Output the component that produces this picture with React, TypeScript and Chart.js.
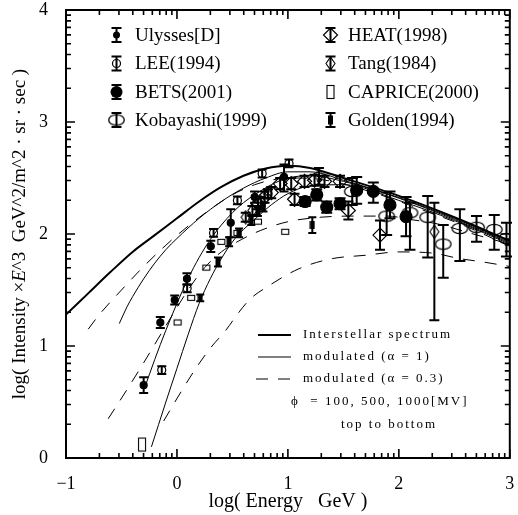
import React, { useEffect, useRef } from "react";
import { Chart, registerables } from "chart.js";
Chart.register(...registerables);

// ---------- axes ----------
const X_MIN = -1, X_MAX = 3, Y_MIN = 0, Y_MAX = 4;
const X_TICKS = [-1, 0, 1, 2, 3];
const Y_TICKS = [0, 1, 2, 3, 4];

// ---------- curves ----------
const IS_X = [-1, -0.8, -0.6, -0.4, -0.2, 0, 0.2, 0.4, 0.6, 0.8, 1.0, 1.2, 1.5, 2.0, 2.5, 3.0];
const IS_Y = [1.28, 1.47, 1.66, 1.84, 1.99, 2.14, 2.29, 2.42, 2.52, 2.585, 2.61, 2.59, 2.50, 2.34, 2.15, 1.94];

const M1_100_X = [-0.52, -0.45, -0.4, -0.3, -0.2, -0.1, 0, 0.2, 0.4, 0.6, 0.8, 1.0, 1.2, 1.5, 2.0, 2.5, 3.0];
const M1_100_Y = [1.20, 1.35, 1.44, 1.60, 1.74, 1.86, 1.96, 2.14, 2.29, 2.41, 2.50, 2.555, 2.555, 2.48, 2.325, 2.14, 1.93];
const M1_500_X = [-0.29, -0.2, -0.1, 0, 0.1, 0.2, 0.3, 0.4, 0.5, 0.6, 0.7, 0.85, 1.0, 1.2, 1.5, 2.0, 2.5, 3.0];
const M1_500_Y = [0.63, 0.88, 1.14, 1.38, 1.60, 1.79, 1.95, 2.08, 2.19, 2.28, 2.35, 2.44, 2.50, 2.52, 2.47, 2.32, 2.13, 1.92];
const M1_1000_X = [-0.23, -0.1, 0, 0.1, 0.2, 0.3, 0.4, 0.5, 0.6, 0.7, 0.85, 1.0, 1.2, 1.5, 2.0, 2.5, 3.0];
const M1_1000_Y = [0.10, 0.50, 0.80, 1.10, 1.38, 1.60, 1.78, 1.93, 2.04, 2.13, 2.26, 2.36, 2.43, 2.44, 2.30, 2.12, 1.91];

const M3_100_X = [-0.8, -0.7, -0.5, -0.3, -0.1, 0.1, 0.3, 0.5, 0.7, 0.9, 1.1, 1.4, 1.8, 2.2, 2.6, 3.0];
const M3_100_Y = [1.15, 1.28, 1.50, 1.71, 1.90, 2.07, 2.22, 2.35, 2.44, 2.49, 2.50, 2.47, 2.36, 2.22, 2.07, 1.89];
const M3_500_X = [-0.62, -0.47, -0.3, -0.1, 0.1, 0.25, 0.4, 0.58, 0.75, 1.0, 1.3, 1.6, 1.9, 2.1, 2.35, 2.6, 2.85, 3.0];
const M3_500_Y = [0.35, 0.58, 0.85, 1.18, 1.50, 1.70, 1.84, 1.95, 2.03, 2.11, 2.15, 2.16, 2.16, 2.13, 2.09, 2.02, 1.95, 1.91];
const M3_1000_X = [-0.12, 0.03, 0.17, 0.30, 0.44, 0.55, 0.66, 0.8, 1.1, 1.4, 1.7, 2.0, 2.3, 2.55, 2.76, 3.0];
const M3_1000_Y = [0.33, 0.58, 0.80, 0.98, 1.14, 1.29, 1.42, 1.52, 1.69, 1.78, 1.81, 1.84, 1.83, 1.78, 1.75, 1.71];

// ---------- measurements ----------
const UL_X = [-0.30, -0.15, -0.02, 0.09, 0.305, 0.485, 0.70, 0.965];
const UL_Y = [0.65, 1.21, 1.41, 1.60, 1.89, 2.10, 2.33, 2.51];
const UL_LO = [0.58, 1.16, 1.37, 1.55, 1.84, 1.97, 2.28, 2.38];
const UL_HI = [0.72, 1.26, 1.45, 1.65, 1.94, 2.22, 2.38, 2.62];

const LEE_X = [-0.137, 0.092, 0.33, 0.545, 0.768, 1.01];
const LEE_Y = [0.785, 1.515, 2.01, 2.30, 2.54, 2.63];
const LEE_LO = [0.75, 1.48, 1.975, 2.265, 2.505, 2.595];
const LEE_HI = [0.82, 1.55, 2.045, 2.335, 2.575, 2.665];

const BETS_X = [1.155, 1.26, 1.35, 1.47, 1.62, 1.77, 1.92, 2.065];
const BETS_Y = [2.29, 2.35, 2.24, 2.27, 2.39, 2.38, 2.26, 2.155];
const BETS_LO = [2.25, 2.30, 2.19, 2.22, 2.27, 2.28, 2.14, 1.98];
const BETS_HI = [2.33, 2.40, 2.29, 2.32, 2.51, 2.46, 2.38, 2.33];

const KOB_X = [1.58, 1.89, 2.10, 2.26, 2.40, 2.55, 2.70, 2.86, 2.97];
const KOB_Y = [2.38, 2.16, 2.19, 2.15, 1.91, 2.05, 2.06, 2.04, 1.96];
const KOB_LO = [2.26, 1.99, 1.86, 1.79, 1.61, 1.76, 1.93, 1.86, 1.80];
const KOB_HI = [2.50, 2.37, 2.28, 2.34, 2.08, 2.22, 2.16, 2.17, 2.10];

const HEAT_X = [0.73, 0.79, 0.85, 0.93, 1.03, 1.06, 1.15, 1.24, 1.33, 1.47, 1.545, 1.83];
const HEAT_Y = [2.27, 2.33, 2.37, 2.45, 2.45, 2.31, 2.47, 2.48, 2.47, 2.47, 2.21, 1.99];
const HEAT_LO = [2.22, 2.28, 2.32, 2.40, 2.40, 2.26, 2.42, 2.43, 2.42, 2.42, 2.13, 1.86];
const HEAT_HI = [2.32, 2.38, 2.42, 2.50, 2.50, 2.36, 2.52, 2.53, 2.52, 2.52, 2.29, 2.12];

const TANG_X = [0.62, 0.68, 0.755, 0.82, 1.28, 2.32];
const TANG_Y = [2.15, 2.21, 2.29, 2.36, 2.52, 2.02];
const TANG_LO = [2.11, 2.17, 2.25, 2.32, 2.44, 1.23];
const TANG_HI = [2.19, 2.25, 2.33, 2.40, 2.59, 2.28];

const CAP_X = [-0.315, 0.006, 0.128, 0.265, 0.40, 0.545, 0.73, 0.976];
const CAP_Y = [0.12, 1.21, 1.43, 1.70, 1.93, 2.01, 2.11, 2.02];
const CAP_LO = [0.06, 1.21, 1.43, 1.70, 1.93, 2.01, 2.11, 2.02];
const CAP_HI = [0.18, 1.21, 1.43, 1.70, 1.93, 2.01, 2.11, 2.02];

const GOLD_X = [0.21, 0.37, 0.47, 0.56, 0.67, 0.73, 0.78, 1.22];
const GOLD_Y = [1.43, 1.75, 1.93, 2.01, 2.12, 2.20, 2.24, 2.08];
const GOLD_LO = [1.40, 1.71, 1.89, 1.97, 2.08, 2.16, 2.20, 2.01];
const GOLD_HI = [1.46, 1.79, 1.97, 2.05, 2.16, 2.24, 2.28, 2.15];

const LEGEND_LEFT = ["Ulysses[D]", "LEE(1994)", "BETS(2001)", "Kobayashi(1999)"];
const LEGEND_RIGHT = ["HEAT(1998)", "Tang(1984)", "CAPRICE(2000)", "Golden(1994)"];
const CURVE_LEGEND = ["Interstellar spectrum", "modulated (\u03b1 = 1)", "modulated (\u03b1 = 0.3)"];
const PHI_NOTE = "\u03d5  = 100, 500, 1000[MV]";
const ORDER_NOTE = "top to bottom";
const X_TITLE = "log( Energy   GeV )";

const SERIF = "'Liberation Serif', 'Times New Roman', serif";

const pts = (xs: number[], ys: number[]) => xs.map((x, i) => ({ x, y: ys[i] }));

function makeCanvas(w: number, h: number, draw: (g: CanvasRenderingContext2D) => void) {
  const c = document.createElement("canvas");
  c.width = w;
  c.height = h;
  const g = c.getContext("2d")!;
  g.strokeStyle = "#000";
  g.fillStyle = "#000";
  draw(g);
  return c;
}

const ellipseImg = makeCanvas(19, 13, (g) => {
  g.lineWidth = 1.3;
  g.beginPath();
  g.ellipse(9.5, 6.5, 7.8, 5.2, 0, 0, Math.PI * 2);
  g.stroke();
});
const smallDiamondImg = makeCanvas(11, 15, (g) => {
  g.lineWidth = 1.1;
  g.beginPath();
  g.moveTo(5.5, 1);
  g.lineTo(10, 7.5);
  g.lineTo(5.5, 14);
  g.lineTo(1, 7.5);
  g.closePath();
  g.stroke();
});
const goldImg = makeCanvas(6, 8, (g) => {
  g.fillRect(0.5, 0, 5, 8);
});
const boxCache: Record<number, HTMLCanvasElement> = {};
function boxImg(h: number) {
  if (!boxCache[h]) {
    boxCache[h] = makeCanvas(10, h + 3, (g) => {
      g.lineWidth = 1.1;
      g.strokeRect(1.5, 1.5, 7, h);
    });
  }
  return boxCache[h];
}

function logTicks(n0: number, n1: number) {
  const out: { v: number; major: boolean }[] = [];
  for (let n = n0; n < n1; n++) {
    out.push({ v: n, major: true });
    for (let k = 2; k <= 9; k++) out.push({ v: n + Math.log10(k), major: false });
  }
  out.push({ v: n1, major: true });
  return out;
}

function errBar(ctx: CanvasRenderingContext2D, x: number, y1: number, y2: number, cap: number) {
  ctx.beginPath();
  ctx.moveTo(x, y1);
  ctx.lineTo(x, y2);
  ctx.moveTo(x - cap, y1);
  ctx.lineTo(x + cap, y1);
  ctx.moveTo(x - cap, y2);
  ctx.lineTo(x + cap, y2);
  ctx.stroke();
}

function legendSymbol(ctx: CanvasRenderingContext2D, kind: string, x: number, y: number) {
  ctx.save();
  ctx.strokeStyle = "#000";
  ctx.fillStyle = "#000";
  ctx.lineWidth = 2;
  if (kind !== "cap") errBar(ctx, x, y - 7, y + 7, 5);
  ctx.lineWidth = 1.2;
  switch (kind) {
    case "ul":
      ctx.beginPath(); ctx.arc(x, y, 3.5, 0, Math.PI * 2); ctx.fill(); break;
    case "lee":
      ctx.beginPath(); ctx.arc(x, y, 4, 0, Math.PI * 2); ctx.stroke(); break;
    case "bets":
      ctx.beginPath(); ctx.arc(x, y, 6, 0, Math.PI * 2); ctx.fill(); break;
    case "kob":
      ctx.drawImage(ellipseImg, x - ellipseImg.width / 2, y - ellipseImg.height / 2); break;
    case "heat":
      ctx.beginPath(); ctx.moveTo(x, y - 7); ctx.lineTo(x + 7, y); ctx.lineTo(x, y + 7); ctx.lineTo(x - 7, y); ctx.closePath(); ctx.stroke(); break;
    case "tang":
      ctx.drawImage(smallDiamondImg, x - smallDiamondImg.width / 2, y - smallDiamondImg.height / 2); break;
    case "cap":
      ctx.lineWidth = 1.1; ctx.strokeRect(x - 3.5, y - 6.5, 7, 13); break;
    case "gold":
      ctx.fillRect(x - 2.5, y - 4.5, 5, 9); break;
  }
  ctx.restore();
}

const decor = {
  id: "decor",
  afterDatasetsDraw(chart: any) {
    const { ctx, chartArea: a, scales } = chart;
    const sx = scales.x, sy = scales.y;
    ctx.save();
    ctx.strokeStyle = "#000";
    ctx.lineWidth = 2;
    chart.data.datasets.forEach((ds: any) => {
      if (!ds.errLo) return;
      ds.data.forEach((p: any, j: number) => {
        const xp = sx.getPixelForValue(p.x);
        errBar(ctx, xp, sy.getPixelForValue(ds.errHi[j]), sy.getPixelForValue(ds.errLo[j]), ds.cap);
      });
    });
    // ticks
    ctx.lineWidth = 1.6;
    ctx.beginPath();
    logTicks(X_MIN, X_MAX).forEach((t) => {
      const px = sx.getPixelForValue(t.v);
      const len = t.major ? 9 : 5;
      ctx.moveTo(px, a.bottom); ctx.lineTo(px, a.bottom - len);
      ctx.moveTo(px, a.top); ctx.lineTo(px, a.top + len);
    });
    logTicks(Y_MIN, Y_MAX).forEach((t) => {
      const py = sy.getPixelForValue(t.v);
      const len = t.major ? 9 : 5;
      ctx.moveTo(a.left, py); ctx.lineTo(a.left + len, py);
      ctx.moveTo(a.right, py); ctx.lineTo(a.right - len, py);
    });
    ctx.stroke();
    ctx.lineWidth = 2;
    ctx.strokeRect(a.left, a.top, a.right - a.left, a.bottom - a.top);
    ctx.restore();
  },
  afterDraw(chart: any) {
    const { ctx, chartArea: a } = chart;
    ctx.save();
    ctx.fillStyle = "#000";
    ctx.strokeStyle = "#000";
    // top legend
    const rows = [35, 63.5, 92, 120];
    const leftKinds = ["ul", "lee", "bets", "kob"];
    const rightKinds = ["heat", "tang", "cap", "gold"];
    ctx.font = `19px ${SERIF}`;
    ctx.textBaseline = "middle";
    ctx.textAlign = "left";
    rows.forEach((ry, i) => {
      legendSymbol(ctx, leftKinds[i], 116.5, ry);
      ctx.fillText(LEGEND_LEFT[i], 135, ry + 1);
      legendSymbol(ctx, rightKinds[i], 330.5, ry);
      ctx.fillText(LEGEND_RIGHT[i], 348, ry + 1);
    });
    // curve legend
    const ly = [335, 357, 379];
    ctx.lineWidth = 2;
    ctx.beginPath(); ctx.moveTo(258, ly[0]); ctx.lineTo(291, ly[0]); ctx.stroke();
    ctx.lineWidth = 1;
    ctx.beginPath(); ctx.moveTo(258, ly[1]); ctx.lineTo(291, ly[1]); ctx.stroke();
    ctx.setLineDash([12, 10]);
    ctx.beginPath(); ctx.moveTo(256, ly[2]); ctx.lineTo(291, ly[2]); ctx.stroke();
    ctx.setLineDash([]);
    ctx.font = `13px ${SERIF}`;
    (ctx as any).letterSpacing = "2px";
    CURVE_LEGEND.forEach((t, i) => ctx.fillText(t, 303, ly[i]));
    ctx.fillText(PHI_NOTE, 291, 402);
    ctx.fillText(ORDER_NOTE, 341, 425);
    (ctx as any).letterSpacing = "0px";
    // x title
    ctx.font = `20px ${SERIF}`;
    ctx.textAlign = "center";
    ctx.fillText(X_TITLE, (a.left + a.right) / 2, 502);
    // y title
    ctx.translate(20, (a.top + a.bottom) / 2);
    ctx.rotate(-Math.PI / 2);
    const segs: [string, string][] = [
      ["log( Intensity \u00d7", `19px ${SERIF}`],
      ["E", `italic 19px ${SERIF}`],
      ["^3  GeV^2/m^2 \u00b7 sr \u00b7 sec )", `19px ${SERIF}`],
    ];
    let total = 0;
    segs.forEach(([t, f]) => { ctx.font = f; total += ctx.measureText(t).width; });
    let cx = -total / 2;
    ctx.textAlign = "left";
    segs.forEach(([t, f]) => { ctx.font = f; ctx.fillText(t, cx, 0); cx += ctx.measureText(t).width; });
    ctx.restore();
  },
};

export default function App() {
  const ref = useRef<HTMLCanvasElement | null>(null);
  useEffect(() => {
    if (!ref.current) return;
    const curve = (xs: number[], ys: number[], width: number, dash: number[]) => ({
      type: "line",
      data: pts(xs, ys),
      showLine: true,
      borderColor: "#000",
      borderWidth: width,
      borderDash: dash,
      pointRadius: 0,
      fill: false,
      cubicInterpolationMode: "monotone",
      order: 2,
    });
    const pointSet = (label: string, xs: number[], ys: number[], extra: any) => ({
      label,
      type: "scatter",
      data: pts(xs, ys),
      borderColor: "#000",
      backgroundColor: "rgba(0,0,0,0)",
      borderWidth: 1.2,
      order: 1,
      ...extra,
    });
    const chart = new Chart(ref.current, {
      type: "scatter",
      data: {
        datasets: [
          pointSet("Ulysses[D]", UL_X, UL_Y, { pointStyle: "circle", pointRadius: 3.5, backgroundColor: "#000", errLo: UL_LO, errHi: UL_HI, cap: 4.5 }),
          pointSet("LEE(1994)", LEE_X, LEE_Y, { pointStyle: "circle", pointRadius: 4, errLo: LEE_LO, errHi: LEE_HI, cap: 4.5 }),
          pointSet("BETS(2001)", BETS_X, BETS_Y, { pointStyle: "circle", pointRadius: 6, backgroundColor: "#000", errLo: BETS_LO, errHi: BETS_HI, cap: 5.5 }),
          pointSet("Kobayashi(1999)", KOB_X, KOB_Y, { pointStyle: ellipseImg, errLo: KOB_LO, errHi: KOB_HI, cap: 5.5 }),
          pointSet("HEAT(1998)", HEAT_X, HEAT_Y, { pointStyle: "rectRot", pointRadius: 7, errLo: HEAT_LO, errHi: HEAT_HI, cap: 5 }),
          pointSet("Tang(1984)", TANG_X, TANG_Y, { pointStyle: smallDiamondImg, errLo: TANG_LO, errHi: TANG_HI, cap: 5 }),
          pointSet("CAPRICE(2000)", CAP_X, CAP_Y, {
            pointStyle: (c: any) => {
              const s = c.chart.scales && c.chart.scales.y;
              const i = c.dataIndex;
              if (!s || i === undefined) return boxImg(5);
              const h = Math.abs(s.getPixelForValue(CAP_LO[i]) - s.getPixelForValue(CAP_HI[i]));
              return boxImg(Math.max(5, Math.round(h)));
            },
          }),
          pointSet("Golden(1994)", GOLD_X, GOLD_Y, { pointStyle: goldImg, errLo: GOLD_LO, errHi: GOLD_HI, cap: 4 }),
          curve(IS_X, IS_Y, 2, []),
          curve(M1_100_X, M1_100_Y, 1, []),
          curve(M1_500_X, M1_500_Y, 1, []),
          curve(M1_1000_X, M1_1000_Y, 1, []),
          curve(M3_100_X, M3_100_Y, 1, [12, 10]),
          curve(M3_500_X, M3_500_Y, 1, [12, 10]),
          curve(M3_1000_X, M3_1000_Y, 1, [12, 10]),
        ] as any,
      },
      options: {
        animation: false,
        responsive: false,
        events: [],
        layout: { padding: { top: 10, right: 4, left: 0, bottom: 0 } },
        plugins: { legend: { display: false }, tooltip: { enabled: false } },
        scales: {
          x: {
            type: "linear",
            min: X_MIN,
            max: X_MAX,
            afterBuildTicks: (s: any) => { s.ticks = X_TICKS.map((v) => ({ value: v })); },
            afterFit: (s: any) => { s.height = 57; s.paddingLeft = 0; s.paddingRight = 0; },
            ticks: {
              autoSkip: false,
              maxRotation: 0,
              padding: 15,
              color: "#000",
              font: { family: SERIF, size: 18 },
              callback: (v: any) => (Number(v) < 0 ? "\u2212" + Math.abs(Number(v)) : String(v)),
            },
            grid: { display: false, drawTicks: false },
            border: { display: false },
          },
          y: {
            type: "linear",
            min: Y_MIN,
            max: Y_MAX,
            afterBuildTicks: (s: any) => { s.ticks = Y_TICKS.map((v) => ({ value: v })); },
            afterFit: (s: any) => { s.width = 66; s.paddingTop = 0; s.paddingBottom = 0; },
            ticks: {
              autoSkip: false,
              padding: 18,
              color: "#000",
              font: { family: SERIF, size: 18 },
              callback: (v: any) => String(v),
            },
            grid: { display: false, drawTicks: false },
            border: { display: false },
          },
        },
      } as any,
      plugins: [decor],
    });
    return () => chart.destroy();
  }, []);
  return (
    <div style={{ position: "fixed", left: 0, top: 0, width: 518, height: 515, background: "#fff" }}>
      <canvas ref={ref} width={518} height={515} style={{ display: "block" }} />
    </div>
  );
}
